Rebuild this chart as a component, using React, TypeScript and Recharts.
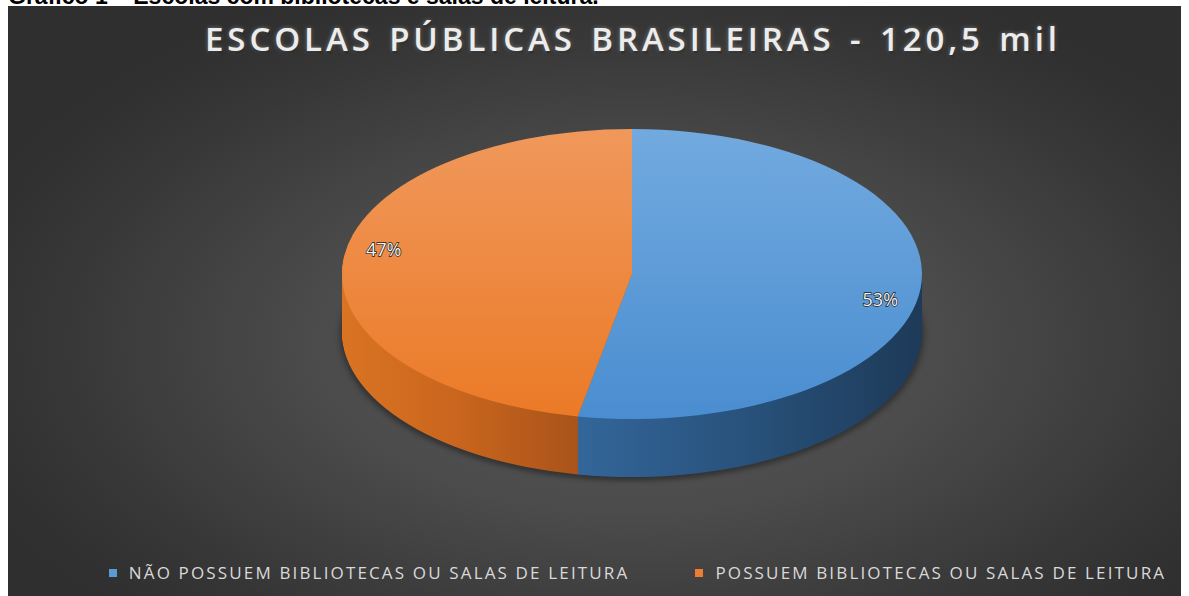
import React from "react";
import { PieChart, Pie, Cell, Legend } from "recharts";

// ---- data ----
const categories = [
  "NÃO POSSUEM BIBLIOTECAS OU SALAS DE LEITURA",
  "POSSUEM BIBLIOTECAS OU SALAS DE LEITURA",
];
const shares = [53, 47];
const titleText = "ESCOLAS PÚBLICAS BRASILEIRAS - 120,5 mil";
const captionText = "Gráfico 1 – Escolas com bibliotecas e salas de leitura.";

const data = categories.map((name, i) => ({ name, value: shares[i] }));

// ---- styles ----
const TOP_FILLS = ["url(#topBlue)", "url(#topOrange)"];
const SIDE_FILLS = ["url(#sideBlue)", "url(#sideOrange)"];
const LEGEND_COLORS = ["#5b9bd5", "#ed7d31"];

const W = 1173;
const H = 590;
const CX = 624;
const SQUASH = 0.5;
const CY_DISPLAY = 268;
const CY = CY_DISPLAY / SQUASH;
const R = 290;
const DEPTH = 58;
const layerOffsets = Array.from({ length: DEPTH }, (_, i) => (DEPTH - i) / SQUASH);

const RAD = Math.PI / 180;

const renderLabel = (p: any) => {
  const x = p.cx + 0.86 * p.outerRadius * Math.cos(-p.midAngle * RAD);
  const y = p.cy * SQUASH + 0.9 * p.outerRadius * Math.sin(-p.midAngle * RAD);
  return (
    <text
      x={x}
      y={y}
      textAnchor="middle"
      dominantBaseline="central"
      fill="#f2f2f2"
      stroke="#1b1b1b"
      strokeWidth={1.4}
      paintOrder="stroke"
      fontFamily="'Open Sans', sans-serif"
      fontSize={18}
    >
      {`${Math.round(p.percent * 100)}%`}
    </text>
  );
};

const renderLegend = (props: any) => {
  const seen = new Set<string>();
  const items = (props.payload || []).filter((e: any) => {
    if (seen.has(e.value)) return false;
    seen.add(e.value);
    return categories.includes(e.value);
  });
  return (
    <div
      style={{
        display: "flex",
        justifyContent: "center",
        gap: 66,
        paddingLeft: 86,
        fontFamily: "'Open Sans', sans-serif",
        fontSize: 17,
        letterSpacing: 2.15,
        color: "#d9d9d9",
        lineHeight: "20px",
        whiteSpace: "nowrap",
      }}
    >
      {items.map((e: any) => (
        <div key={e.value} style={{ display: "flex", alignItems: "center" }}>
          <span
            style={{
              display: "inline-block",
              width: 8,
              height: 8,
              background: LEGEND_COLORS[categories.indexOf(e.value)],
              marginRight: 12,
            }}
          />
          <span>{e.value}</span>
        </div>
      ))}
    </div>
  );
};

const css = `
.pie3d path.recharts-sector { transform: scaleY(${SQUASH}); transform-box: view-box; transform-origin: 0 0; }
.pie3d .pie-shadow { filter: blur(2px); }
`;

export default function App() {
  return (
    <div style={{ position: "absolute", left: 0, top: 0, width: 1189, height: 596, overflow: "hidden", background: "#fff" }}>
      <style>{css}</style>
      <svg width={0} height={0} style={{ position: "absolute" }}>
        <defs>
          <linearGradient id="topBlue" x1="0" y1="0" x2="0" y2="1">
            <stop offset="0" stopColor="#72aadf" />
            <stop offset="1" stopColor="#4a8dd0" />
          </linearGradient>
          <linearGradient id="topOrange" x1="0" y1="0" x2="0" y2="1">
            <stop offset="0" stopColor="#f0985b" />
            <stop offset="1" stopColor="#eb7a27" />
          </linearGradient>
          <linearGradient id="sideBlue" x1="0" y1="0" x2="1" y2="0">
            <stop offset="0" stopColor="#33669a" />
            <stop offset="0.5" stopColor="#28517a" />
            <stop offset="1" stopColor="#1d3a58" />
          </linearGradient>
          <linearGradient id="sideOrange" x1="0" y1="0" x2="1" y2="0">
            <stop offset="0" stopColor="#da7423" />
            <stop offset="0.4" stopColor="#c9651d" />
            <stop offset="0.81" stopColor="#a9541a" />
            <stop offset="1" stopColor="#a9541a" />
          </linearGradient>
        </defs>
      </svg>
      <div
        style={{
          position: "absolute",
          left: 8,
          top: -15,
          fontFamily: "'Liberation Sans', Arial, sans-serif",
          fontWeight: "bold",
          fontSize: 23,
          lineHeight: "23px",
          color: "#000",
          whiteSpace: "nowrap",
        }}
      >
        {captionText}
      </div>
      <div
        className="pie3d"
        style={{
          position: "absolute",
          left: 8,
          top: 6,
          width: W,
          height: H,
          background:
            "radial-gradient(ellipse 60% 65% at 53% 57%, #5c5c5c 0%, #4b4b4b 45%, #353535 85%, #2f2f2f 100%)",
        }}
      >
        <div
          style={{
            position: "absolute",
            left: 0,
            top: 10,
            width: 1250,
            textAlign: "center",
            fontFamily: "'Open Sans', sans-serif",
            fontWeight: 600,
            fontSize: 33,
            letterSpacing: 3.9,
            wordSpacing: 3,
            color: "#ececec",
            whiteSpace: "nowrap",
            textShadow: "0 0 4px rgba(255,255,255,0.35), 1px 2px 2px rgba(0,0,0,0.5)",
          }}
        >
          {titleText}
        </div>
        <PieChart width={W} height={H} margin={{ top: 0, right: 0, bottom: 0, left: 0 }}>
          <Pie
            className="pie-shadow"
            data={data}
            dataKey="value"
            nameKey="name"
            cx={CX}
            cy={CY + (DEPTH + 3) / SQUASH}
            outerRadius={R + 2}
            startAngle={90}
            endAngle={-270}
            stroke="none"
            fill="#000"
            fillOpacity={0.35}
            legendType="none"
            isAnimationActive={false}
          />
          {layerOffsets.map((off) => (
            <Pie
              key={off}
              data={data}
              dataKey="value"
              nameKey="name"
              cx={CX}
              cy={CY + off}
              outerRadius={R}
              startAngle={90}
              endAngle={-270}
              stroke="none"
              legendType="none"
              isAnimationActive={false}
            >
              {data.map((d, i) => (
                <Cell key={d.name} fill={SIDE_FILLS[i]} />
              ))}
            </Pie>
          ))}
          <Pie
            data={data}
            dataKey="value"
            nameKey="name"
            cx={CX}
            cy={CY}
            outerRadius={R}
            startAngle={90}
            endAngle={-270}
            stroke="none"
            label={renderLabel}
            labelLine={false}
            isAnimationActive={false}
          >
            {data.map((d, i) => (
              <Cell key={d.name} fill={TOP_FILLS[i]} />
            ))}
          </Pie>
          <Legend
            verticalAlign="bottom"
            content={renderLegend}
            wrapperStyle={{ left: 0, bottom: 13, width: W }}
          />
        </PieChart>
      </div>
    </div>
  );
}
